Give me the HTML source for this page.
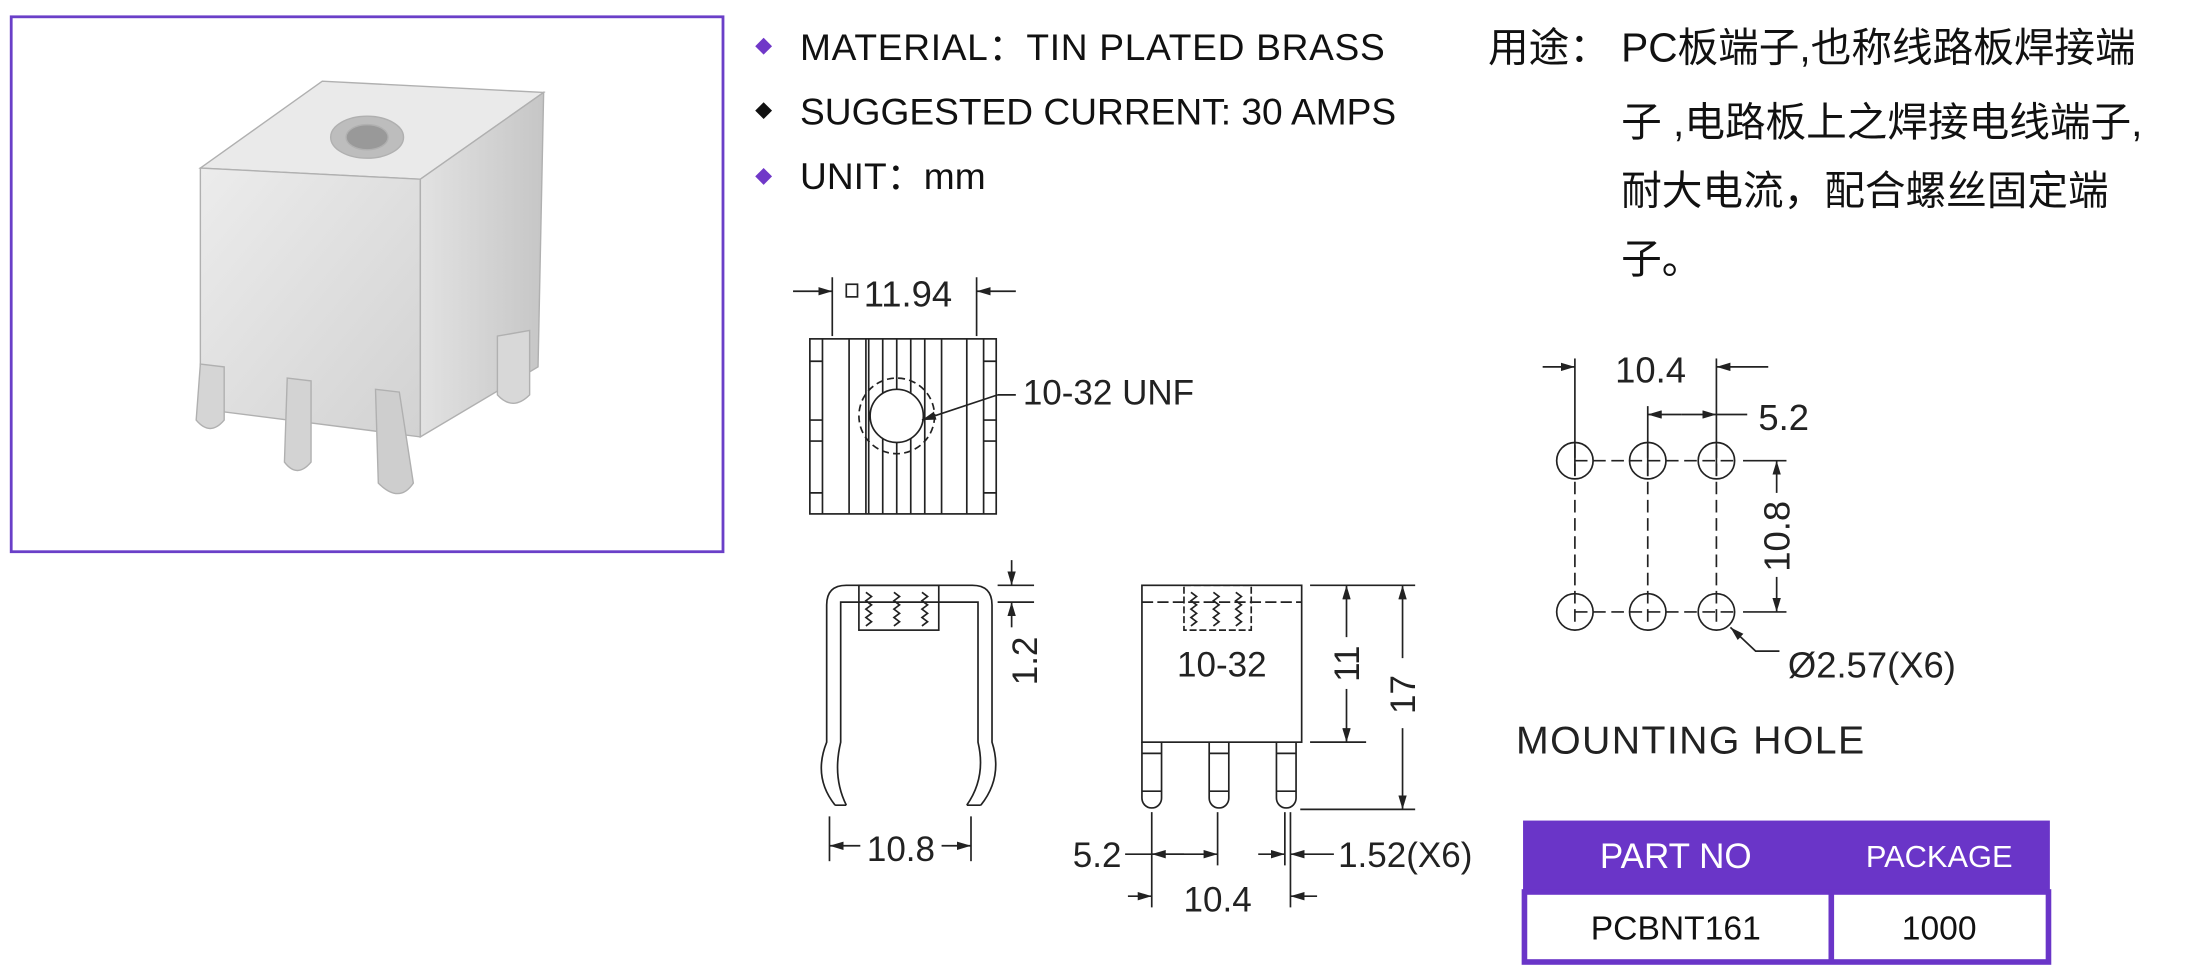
<!DOCTYPE html>
<html><head><meta charset="utf-8"><style>
html,body{margin:0;padding:0;background:#fff;width:2197px;height:976px;overflow:hidden}
svg{display:block}
.t{font-family:"Liberation Sans","Noto Sans CJK SC",sans-serif;fill:#111}
.n{font-family:"Liberation Sans Narrow","Liberation Sans",sans-serif;fill:#222}
</style></head><body>
<svg width="2197" height="976" viewBox="0 0 1568 697" preserveAspectRatio="none" xmlns="http://www.w3.org/2000/svg">
<defs>
<marker id="a" viewBox="0 0 10 6" refX="10" refY="3" markerWidth="10" markerHeight="6" orient="auto-start-reverse" markerUnits="userSpaceOnUse"><path d="M0,0L10,3L0,6z" fill="#222"/></marker>
<linearGradient id="g1" x1="0" y1="0" x2="1" y2="1"><stop offset="0" stop-color="#ececec"/><stop offset="1" stop-color="#d2d2d2"/></linearGradient>
<linearGradient id="g2" x1="0" y1="0" x2="1" y2="0"><stop offset="0" stop-color="#e2e2e2"/><stop offset="1" stop-color="#c6c6c6"/></linearGradient>
</defs>
<rect x="8" y="12" width="508" height="382" fill="#fff" stroke="#6a3fc8" stroke-width="2"/>
<g stroke="#b0b0b0" stroke-width="1">
<path d="M143,120 L230,58 L388,66 L300,128 Z" fill="#eaeaea"/>
<path d="M143,120 L300,128 L300,312 L143,292 Z" fill="url(#g1)"/>
<path d="M300,128 L388,66 L384,262 L300,312 Z" fill="url(#g2)"/>
<path d="M143,260 L160,262 L160,300 Q150,312 140,300 Z" fill="#d5d5d5"/>
<path d="M205,270 L222,272 L222,330 Q212,342 203,330 Z" fill="#d3d3d3"/>
<path d="M268,278 L285,280 L295,345 Q285,360 270,345 Z" fill="#cecece"/>
<path d="M355,240 L378,236 L378,282 Q366,294 355,282 Z" fill="#d8d8d8"/>
<ellipse cx="262" cy="98" rx="26" ry="15" fill="#bdbdbd"/>
<ellipse cx="262" cy="98" rx="15" ry="9" fill="#999"/>
</g>
<path d="M545,27 L551,33 L545,39 L539,33Z" fill="#7038c8"/>
<path d="M545,73 L551,79 L545,85 L539,79Z" fill="#111"/>
<path d="M545,120 L551,126 L545,132 L539,126Z" fill="#7038c8"/>
<text class="t" x="571" y="43" font-size="26.5" letter-spacing="0.5">MATERIAL：TIN PLATED BRASS</text>
<text class="t" x="571" y="89" font-size="26.5">SUGGESTED CURRENT: 30 AMPS</text>
<text class="t" x="571" y="135" font-size="26.5">UNIT：mm</text>
<text class="t" x="1062" y="44" font-size="29">用途：</text>
<text class="t" x="1157" y="44" font-size="29">PC板端子,也称线路板焊接端</text>
<text class="t" x="1157" y="97" font-size="29">子 ,电路板上之焊接电线端子,</text>
<text class="t" x="1157" y="146" font-size="29">耐大电流，配合螺丝固定端</text>
<text class="t" x="1157" y="195" font-size="29">子。</text>

<g fill="none" stroke="#222" stroke-width="1.2">
<line x1="594" y1="198" x2="594" y2="240"/><line x1="697" y1="198" x2="697" y2="240"/>
<line x1="566" y1="208" x2="594" y2="208" marker-end="url(#a)"/><line x1="725" y1="208" x2="697" y2="208" marker-end="url(#a)"/>
<rect x="604" y="203" width="8" height="9"/>
<rect x="578" y="242" width="133" height="125"/>
<line x1="587" y1="242" x2="587" y2="367"/><line x1="702" y1="242" x2="702" y2="367"/>
<path d="M578,258H587M578,300H587M578,315H587M578,352H587M702,258H711M702,300H711M702,315H711M702,352H711"/>
<line x1="606" y1="242" x2="606" y2="367"/><line x1="618" y1="242" x2="618" y2="367"/><line x1="620" y1="242" x2="620" y2="367"/>
<line x1="630" y1="242" x2="630" y2="367"/><line x1="640" y1="242" x2="640" y2="367"/><line x1="650" y1="242" x2="650" y2="367"/>
<line x1="660" y1="242" x2="660" y2="367"/><line x1="672" y1="242" x2="672" y2="367"/><line x1="690" y1="242" x2="690" y2="367"/>
<circle cx="640" cy="297" r="19" fill="#fff"/>
<circle cx="640" cy="297" r="27" stroke-dasharray="5 3"/>
<line x1="725" y1="282" x2="712" y2="282"/><line x1="712" y1="282" x2="658" y2="300" marker-end="url(#a)"/>
<path d="M596,575 Q580,555 590,530 L590,432 Q590,418 604,418 L694,418 Q708,418 708,432 L708,530 Q716,555 700,575"/>
<path d="M604,575 Q594,555 600,530 L600,430 L698,430 L698,530 Q704,555 690,575"/>
<path d="M596,575L604,575M690,575L700,575"/>
<rect x="613" y="418" width="57" height="32"/>
<path d="M618,423l4,3l-4,3l4,3l-4,3l4,3l-4,3l4,3l-4,3M638,423l4,3l-4,3l4,3l-4,3l4,3l-4,3l4,3l-4,3M658,423l4,3l-4,3l4,3l-4,3l4,3l-4,3l4,3l-4,3"/>
<line x1="712" y1="418" x2="738" y2="418"/><line x1="712" y1="430" x2="738" y2="430"/>
<line x1="722" y1="400" x2="722" y2="418" marker-end="url(#a)"/><line x1="722" y1="448" x2="722" y2="430" marker-end="url(#a)"/>
<line x1="592" y1="583" x2="592" y2="615"/><line x1="693" y1="583" x2="693" y2="615"/>
<line x1="614" y1="604" x2="592" y2="604" marker-end="url(#a)"/><line x1="672" y1="604" x2="693" y2="604" marker-end="url(#a)"/>
<rect x="815" y="418" width="114" height="112"/>
<line x1="815" y1="430" x2="929" y2="430" stroke-dasharray="8 3"/>
<rect x="845" y="418" width="48" height="32" stroke-dasharray="5 2"/>
<path d="M850,423l4,3l-4,3l4,3l-4,3l4,3l-4,3l4,3l-4,3M866,423l4,3l-4,3l4,3l-4,3l4,3l-4,3l4,3l-4,3M882,423l4,3l-4,3l4,3l-4,3l4,3l-4,3l4,3l-4,3"/>
<path d="M815,530V570a7,7 0 0 0 14,0V530M863,530V570a7,7 0 0 0 14,0V530M911,530V570a7,7 0 0 0 14,0V530"/>
<path d="M815,538H829M863,538H877M911,538H925M815,565H829M863,565H877M911,565H925"/>
<line x1="935" y1="418" x2="1010" y2="418"/><line x1="935" y1="530" x2="975" y2="530"/><line x1="928" y1="578" x2="1010" y2="578"/>
<line x1="961" y1="455" x2="961" y2="418" marker-end="url(#a)"/><line x1="961" y1="492" x2="961" y2="530" marker-end="url(#a)"/>
<line x1="1001" y1="470" x2="1001" y2="418" marker-end="url(#a)"/><line x1="1001" y1="520" x2="1001" y2="578" marker-end="url(#a)"/>
<line x1="822" y1="580" x2="822" y2="648"/><line x1="869" y1="580" x2="869" y2="618"/>
<line x1="917" y1="580" x2="917" y2="618"/><line x1="921" y1="580" x2="921" y2="648"/>
<line x1="803" y1="610" x2="869" y2="610" marker-end="url(#a)"/><line x1="845" y1="610" x2="822" y2="610" marker-end="url(#a)"/>
<line x1="898" y1="610" x2="917" y2="610" marker-end="url(#a)"/><line x1="952" y1="610" x2="921" y2="610" marker-end="url(#a)"/>
<line x1="805" y1="640" x2="822" y2="640" marker-end="url(#a)"/><line x1="940" y1="640" x2="921" y2="640" marker-end="url(#a)"/>
<circle cx="1124" cy="329" r="13"/><circle cx="1176" cy="329" r="13"/><circle cx="1225" cy="329" r="13"/>
<circle cx="1124" cy="437" r="13"/><circle cx="1176" cy="437" r="13"/><circle cx="1225" cy="437" r="13"/>
<path d="M1124,329H1240M1124,437H1240M1124,318V448M1176,318V448M1225,318V448" stroke-dasharray="9 4"/>
<line x1="1124" y1="256" x2="1124" y2="340"/><line x1="1225" y1="256" x2="1225" y2="340"/><line x1="1176" y1="290" x2="1176" y2="340"/>
<line x1="1101" y1="262" x2="1124" y2="262" marker-end="url(#a)"/><line x1="1262" y1="262" x2="1225" y2="262" marker-end="url(#a)"/>
<line x1="1200" y1="296" x2="1176" y2="296" marker-end="url(#a)"/><line x1="1200" y1="296" x2="1225" y2="296" marker-end="url(#a)"/><line x1="1225" y1="296" x2="1247" y2="296"/>
<line x1="1244" y1="329" x2="1275" y2="329"/><line x1="1244" y1="437" x2="1275" y2="437"/>
<line x1="1268" y1="352" x2="1268" y2="329" marker-end="url(#a)"/><line x1="1268" y1="412" x2="1268" y2="437" marker-end="url(#a)"/>
<path d="M1270,465H1253L1235,448" marker-end="url(#a)"/>
</g>
<text class="n" x="648" y="219" font-size="26" text-anchor="middle">11.94</text>
<text class="n" x="730" y="289" font-size="25">10-32 UNF</text>
<text class="n" x="643" y="615" font-size="25" text-anchor="middle">10.8</text>
<text class="n" font-size="25" text-anchor="middle" transform="translate(740,472) rotate(-90)">1.2</text>
<text class="n" x="872" y="483" font-size="25" text-anchor="middle">10-32</text>
<text class="n" font-size="25" text-anchor="middle" transform="translate(970,474) rotate(-90)">11</text>
<text class="n" font-size="25" text-anchor="middle" transform="translate(1010,496) rotate(-90)">17</text>
<text class="n" x="783" y="619" font-size="25" text-anchor="middle">5.2</text>
<text class="n" x="955" y="619" font-size="25">1.52(X6)</text>
<text class="n" x="869" y="651" font-size="25" text-anchor="middle">10.4</text>
<text class="n" x="1178" y="273" font-size="26" text-anchor="middle">10.4</text>
<text class="n" x="1255" y="307" font-size="26">5.2</text>
<text class="n" font-size="26" text-anchor="middle" transform="translate(1277,383) rotate(-90)">10.8</text>
<text class="n" x="1276" y="484" font-size="26">Ø2.57(X6)</text>
<text class="n" x="1082" y="538" font-size="28" letter-spacing="1">MOUNTING  HOLE</text>
<rect x="1087" y="586" width="376" height="52" fill="#6a35c8"/>
<rect x="1088" y="637" width="374" height="50" fill="#fff" stroke="#6a35c8" stroke-width="4"/>
<line x1="1307" y1="637" x2="1307" y2="688" stroke="#6a35c8" stroke-width="4"/>
<text x="1196" y="620" font-size="25" fill="#fff" text-anchor="middle" font-family="Liberation Sans,sans-serif">PART NO</text>
<text x="1384" y="619" font-size="22" fill="#fff" text-anchor="middle" font-family="Liberation Sans,sans-serif">PACKAGE</text>
<text class="t" x="1196" y="671" font-size="24" text-anchor="middle">PCBNT161</text>
<text class="t" x="1384" y="671" font-size="24" text-anchor="middle">1000</text>
</svg>
</body></html>
